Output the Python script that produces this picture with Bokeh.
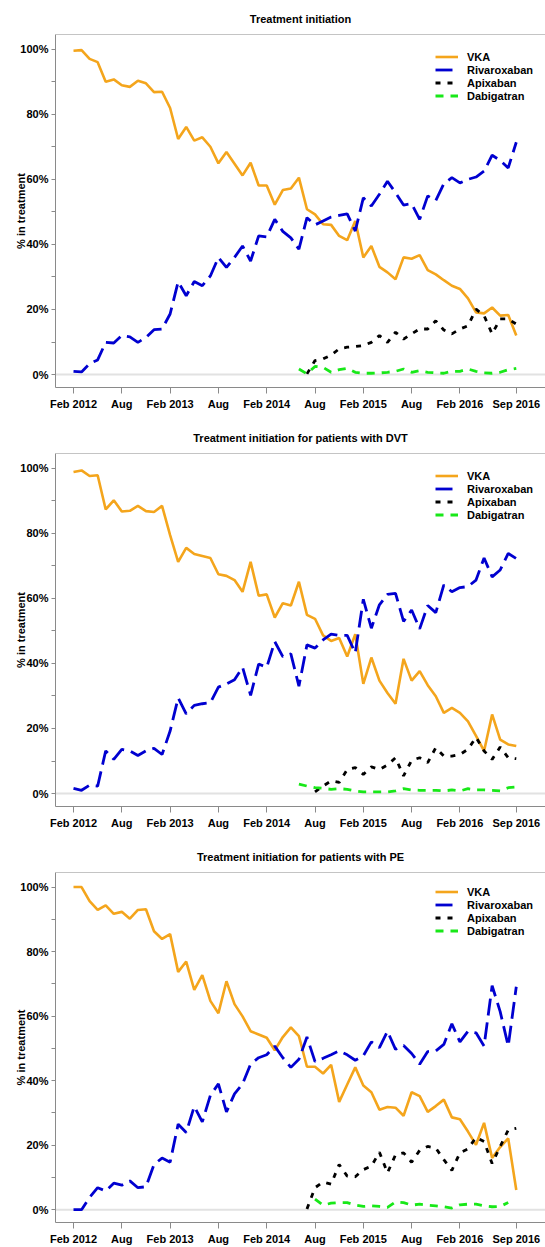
import numpy as np
from bokeh.plotting import figure
from bokeh.models import FixedTicker, Span, Range1d, Legend, LegendItem, PrintfTickFormatter
from bokeh.layouts import column
from bokeh.embed import file_html
from bokeh.resources import INLINE

NA = np.nan

# months Feb 2012 .. Sep 2016 (56 months), x = month index
month_index = list(range(56))
tick_pos = [0, 6, 12, 18, 24, 30, 36, 42, 48, 55]
tick_labels = ["Feb 2012", "Aug", "Feb 2013", "Aug", "Feb 2014", "Aug",
               "Feb 2015", "Aug", "Feb 2016", "Sep 2016"]
series_names = ["VKA", "Rivaroxaban", "Apixaban", "Dabigatran"]
titles = ["Treatment initiation",
          "Treatment initiation for patients with DVT",
          "Treatment initiation for patients with PE"]

# ---- Panel 1: all patients ----
vka_all = [99.5, 99.7, 97, 96, 90, 90.7, 88.9, 88.4, 90.3, 89.5,
           86.8, 86.9, 81.9, 72.4, 76.1, 71.9, 72.9, 70, 64.9, 68.4,
           64.8, 61.2, 65.1, 58.1, 58.1, 52.2, 56.7, 57.2, 60.5, 50.8,
           49.2, 46.2, 46.0, 42.6, 41.3, 47.2, 36.0, 39.5, 33.1, 31.4,
           29.3, 36.0, 35.6, 36.7, 32.1, 30.8, 29.0, 27.3, 26.3, 23.4,
           19.1, 18.8, 20.6, 18.1, 18.3, 12.0]
riv_all = [1.0, 0.8, 3.3, 4.5, 9.9, 9.7, 12.0, 11.6, 9.9, 11.4,
           13.8, 14, 18.6, 28.5, 24.2, 28.6, 27.3, 30.3, 36, 32.9,
           36, 39.5, 34.9, 42.6, 42.3, 47.7, 44, 42, 38.5, 48.2,
           46, 47.2, 48.4, 48.9, 49.4, 44.1, 54.3, 51.8, 55.4, 59.4,
           55.9, 52.1, 52.5, 47.7, 54.9, 53.5, 58.6, 60.5, 58.9, 60,
           60.7, 62.5, 67.4, 65.8, 63.5, 71.4]
apx_all = [NA] * 29 + [0.2, 4.3, 4.8, 6.0, 7.9, 8.4, 8.6, 8.9, 9.9, 12,
                       9.9, 13, 10.9, 12.5, 14, 14, 16.5, 13.7, 12.5, 14,
                       15, 20.1, 18.1, 12.5, 17.1, 17.1, 15.5]
dab_all = [NA] * 28 + [1.7, 0.2, 2.5, 2.2, 0.7, 1.5, 1.9, 0.7, 0.4, 0.4,
                       0.5, 0.7, 1.0, 1.7, 0.7, 1.2, 0.7, 0.5, 0.4, 1.0,
                       1.0, 1.7, 1.0, 0.5, 0.4, 0.7, 1.5, 1.9]

# ---- Panel 2: DVT ----
vka_dvt = [98.8, 99.3, 97.6, 97.8, 87.3, 90.1, 86.7, 86.9, 88.4, 86.8,
           86.5, 88.4, 79.4, 71.2, 75.5, 73.6, 73.0, 72.4, 67.4, 66.9,
           65.6, 62, 71.2, 60.8, 61.2, 54.1, 58.5, 57.8, 65.1, 54.9,
           53.7, 48.6, 46.9, 47.8, 42.1, 49, 33.7, 41.8, 34.7, 30.9,
           27.6, 41.4, 34.7, 37.6, 33.3, 29.9, 24.8, 26.3, 24.8, 22.2,
           17.7, 13.1, 24.3, 16.6, 15.1, 14.6]
riv_dvt = [1.6, 1.0, 2.6, 2.3, 13.1, 10.5, 13.6, 13.1, 11.7, 13.1,
           13.9, 12, 19.2, 29.4, 24.5, 27.1, 27.6, 27.9, 32.7, 33.7,
           35, 38.8, 30.2, 39.8, 38.8, 46.7, 42.1, 42.9, 33.0, 45.7,
           44.7, 47.2, 49, 48.6, 48.6, 43.2, 59.7, 50.8, 58, 61.2,
           61.5, 52.9, 56.4, 50.6, 57.8, 55.6, 64.1, 62, 63.3, 63.6,
           65.6, 72.4, 66.6, 68.7, 73.8, 72.2]
apx_dvt = [NA] * 30 + [0.5, 2.3, 3.9, 3.4, 7.4, 8, 5.9, 8.2, 7.4, 8.8,
                       11, 5.4, 10.2, 11, 9.5, 14.1, 11.5, 11.5, 12, 13.6,
                       17.3, 13.1, 10.5, 14.3, 11, 10.7]
dab_dvt = [NA] * 28 + [2.9, 2.3, 1.8, 1.6, 1.3, 1.5, 1.3, 0.8, 0.5, 0.5,
                       0.5, 0.5, 0.8, 1.5, 1.1, 1.0, 1.0, 1.0, 0.8, 1.1,
                       0.8, 1.5, 1.1, 1.1, 1.0, 0.8, 1.8, 2.0]

# ---- Panel 3: PE ----
vka_pe = [100, 100, 95.6, 92.9, 94.3, 91.7, 92.3, 90.2, 92.9, 93.1,
          86.3, 83.9, 85.4, 73.7, 76.9, 68.1, 72.7, 64.7, 60.9, 70.8,
          63.7, 59.9, 55.3, 54.3, 53.3, 49.4, 53.5, 56.5, 53.8, 44.3,
          44.3, 42.2, 44.9, 33.4, 38.8, 44.1, 38.5, 36.4, 31, 31.8,
          31.6, 29.1, 36.4, 35.2, 30.3, 32.1, 34.1, 28.6, 28, 24.2,
          20.1, 26.9, 16, 19.4, 22.1, 6.1]
riv_pe = [0, 0, 3.8, 6.8, 5.8, 8.2, 7.6, 8.9, 6.8, 7.1,
          14, 16, 14.7, 26.5, 23.9, 32, 27.2, 35.4, 39, 30.3,
          35.9, 39, 45.1, 47.1, 48, 50.7, 47.1, 44.1, 46.6, 53.5,
          45.9, 46.9, 48, 49.2, 48, 46.3, 47.7, 52, 50.2, 55.3,
          49.7, 50.9, 48.4, 45.1, 49, 49.2, 51.2, 57.6, 52, 55.3,
          54.8, 50.7, 69.4, 61.4, 50.7, 69.1]
apx_pe = [NA] * 29 + [0.2, 6.8, 8.6, 7.9, 14, 10.4, 10.2, 12.4, 13.5, 17.8,
                      11.4, 17, 17.6, 14.7, 18.4, 19.6, 19.1, 15.5, 12.2, 17.6,
                      18.8, 22.4, 21.1, 14.3, 19.6, 24.7, 25.2]
dab_pe = [NA] * 30 + [3.3, 1.4, 2, 2.2, 2.2, 1.4, 1, 1.2, 1, 0.7,
                      2.4, 2.2, 1.4, 1.7, 1.4, 1.2, 0.9, 0.5, 1.5, 1.7,
                      1.7, 1.2, 0.9, 1, 2.2] + [NA]

FONT = "Liberation Sans"
AXIS_GREY = "#8a8a8a"
styles = [
    dict(line_color="#F4A51C", line_width=2.6),
    dict(line_color="#0000D0", line_width=2.8, line_dash="17 7"),
    dict(line_color="#000000", line_width=2.8, line_dash="5 7"),
    dict(line_color="#18E818", line_width=2.8, line_dash="8 7"),
]

Y0, Y1 = -3.98, 104.5
X0, X1 = -2.236, 58.63


def make_panel(title, series, height, top, bottom):
    p = figure(width=545, height=height, output_backend="svg", toolbar_location=None,
               x_range=Range1d(X0, X1), y_range=Range1d(Y0, Y1),
               min_border_left=55, min_border_right=0,
               min_border_top=top, min_border_bottom=bottom)
    p.outline_line_color = None
    p.xgrid.visible = False
    p.ygrid.visible = False

    p.title.text = title
    p.title.text_font = FONT
    p.title.text_font_size = "11px"
    p.title.text_font_style = "bold"
    p.title.text_color = "black"
    p.title.align = "center"
    p.title.offset = 6
    p.title.standoff = 20

    p.add_layout(Span(location=0, dimension="width", line_color="#e2e2e2",
                      line_width=2, level="underlay"))
    p.add_layout(Span(location=Y1, dimension="width", line_color=AXIS_GREY,
                      line_width=1))

    items = []
    for name, ys, st in zip(series_names, series, styles):
        r = p.line(month_index, ys, **st)
        items.append(LegendItem(label=name, renderers=[r]))

    leg = Legend(items=items, location=(380, 285))
    leg.border_line_color = None
    leg.background_fill_alpha = 0
    leg.padding = 0
    leg.margin = 0
    leg.spacing = 0
    leg.label_height = 13
    leg.glyph_height = 13
    leg.glyph_width = 23
    leg.label_standoff = 9
    leg.label_text_font = FONT
    leg.label_text_font_size = "11px"
    leg.label_text_font_style = "bold"
    leg.label_text_color = "black"
    p.add_layout(leg)

    xa = p.xaxis[0]
    xa.ticker = FixedTicker(ticks=tick_pos)
    xa.major_label_overrides = {t: l for t, l in zip(tick_pos, tick_labels)}
    xa.major_tick_out = 6
    xa.major_tick_in = 0
    xa.minor_tick_line_color = None
    xa.major_label_standoff = 4
    xa.axis_line_color = AXIS_GREY
    xa.major_tick_line_color = AXIS_GREY
    xa.major_label_text_font = FONT
    xa.major_label_text_font_size = "11px"
    xa.major_label_text_font_style = "bold"
    xa.major_label_text_color = "black"

    ya = p.yaxis[0]
    ya.ticker = FixedTicker(ticks=[0, 20, 40, 60, 80, 100], minor_ticks=[10, 30, 50, 70, 90])
    ya.formatter = PrintfTickFormatter(format="%d%%")
    ya.major_tick_out = 4
    ya.major_tick_in = 0
    ya.minor_tick_out = 4
    ya.minor_tick_in = 0
    ya.minor_tick_line_color = AXIS_GREY
    ya.major_tick_line_color = AXIS_GREY
    ya.axis_line_color = AXIS_GREY
    ya.major_label_standoff = 3
    ya.major_label_text_font = FONT
    ya.major_label_text_font_size = "11px"
    ya.major_label_text_font_style = "bold"
    ya.major_label_text_color = "black"
    ya.axis_label = "% in treatment"
    ya.axis_label_text_font = FONT
    ya.axis_label_text_font_size = "11px"
    ya.axis_label_text_font_style = "bold"
    ya.axis_label_text_color = "black"
    ya.axis_label_standoff = -10
    return p


p1 = make_panel(titles[0], [vka_all, riv_all, apx_all, dab_all], 419, 33, 32)
p2 = make_panel(titles[1], [vka_dvt, riv_dvt, apx_dvt, dab_dvt], 419, 33, 32)
p3 = make_panel(titles[2], [vka_pe, riv_pe, apx_pe, dab_pe], 409, 33, 22)

p = column(p1, p2, p3)
open("out.html", "w").write(file_html(p, INLINE))
